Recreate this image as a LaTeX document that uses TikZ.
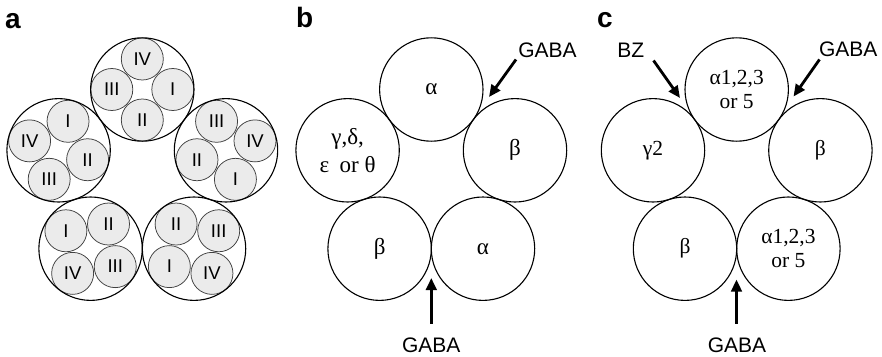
\documentclass[tikz,border=0pt]{standalone}
\usepackage{fontspec}
\setmainfont{Liberation Serif}
\setsansfont{Liberation Sans}
\usetikzlibrary{arrows.meta}
\begin{document}
\begin{tikzpicture}[x=1pt,y=-1pt,
  big/.style={circle,draw=black,line width=1.1pt,minimum size=103.4pt,inner sep=0pt,outer sep=0pt},
  sub/.style={circle,draw=black!75,fill=black!8,line width=0.75pt,minimum size=42pt,inner sep=0pt,outer sep=0pt,font=\sffamily\fontsize{18.5}{18.5}\selectfont},
  unit/.style={circle,draw=black,line width=1.1pt,minimum size=103.4pt,inner sep=0pt,outer sep=0pt,align=center},
  ub/.style={unit,font=\fontsize{23}{28}\selectfont},
  uc/.style={unit,font=\fontsize{21.5}{24.5}\selectfont},
  lab/.style={font=\sffamily\fontsize{21}{21}\selectfont,inner sep=0pt,anchor=base},
  panel/.style={font=\sffamily\bfseries\fontsize{28}{28}\selectfont,inner sep=0pt,anchor=base west},
  arr/.style={line width=2.8pt,-{Triangle[length=12pt,width=10.5pt]}}
]
\useasboundingbox (0,0) rectangle (882,356);

% panel labels
\node[panel] (pa) at (5,28.5) {a};
\node[panel] (pb) at (296,27) {b};
\node[panel] (pc) at (597,27) {c};

% panel a
\foreach \k in {0,...,4} {
  \pgfmathsetmacro\th{90+72*\k}
  \foreach \lab/\ph [count=\j] in {IV/90,I/0,II/-90,III/180} {
    \pgfmathsetmacro\ps{\ph+72*\k}
    \node[sub] (a\k s\j) at ({142.3+88*cos(\th)+30.5*cos(\ps)},{177.5-88*sin(\th)-30.5*sin(\ps)}) {\lab};
  }
  \node[big] (a\k) at ({142.3+88*cos(\th)},{177.5-88*sin(\th)}) {};
}

% panel b
\node[ub] (b1) at (431.3,89.5) {α};
\node[ub] (b2) at (515.0,150.3) {β};
\node[ub] (b3) at (483.0,248.7) {α};
\node[ub] (b4) at (379.6,248.7) {β};
\node[ub] (b5) at (347.6,150.3) {γ,δ,\\ε\hspace{0.2em} or θ};

\node[lab] (gb1) at (547.5,57) {GABA};
\node[lab] (gb2) at (431.3,352.5) {GABA};
\coordinate (bg1s) at (516,59.5);
\coordinate (bg1e) at (489,97);
\coordinate (bg2s) at (431.3,323.5);
\coordinate (bg2e) at (431.3,278);
\draw[arr] (bg1s) -- (bg1e);
\draw[arr] (bg2s) -- (bg2e);

% panel c
\node[uc] (c1) at (736.7,89.5) {α1,2,3\\or 5};
\node[uc] (c2) at (820.4,150.3) {β};
\node[uc] (c3) at (788.4,248.7) {α1,2,3\\or 5};
\node[uc] (c4) at (685.0,248.7) {β};
\node[uc] (c5) at (653.0,150.3) {γ2};

\node[lab] (gc1) at (848.3,56) {GABA};
\node[lab] (bz) at (630.8,57) {BZ};
\node[lab] (gc2) at (737,352) {GABA};
\coordinate (cg1s) at (819.5,59.5);
\coordinate (cg1e) at (793.5,96.5);
\coordinate (cbzs) at (653.5,60.5);
\coordinate (cbze) at (680,98);
\coordinate (cg2s) at (736.5,323.5);
\coordinate (cg2e) at (736.5,279.5);
\draw[arr] (cg1s) -- (cg1e);
\draw[arr] (cbzs) -- (cbze);
\draw[arr] (cg2s) -- (cg2e);
\end{tikzpicture}
\end{document}
